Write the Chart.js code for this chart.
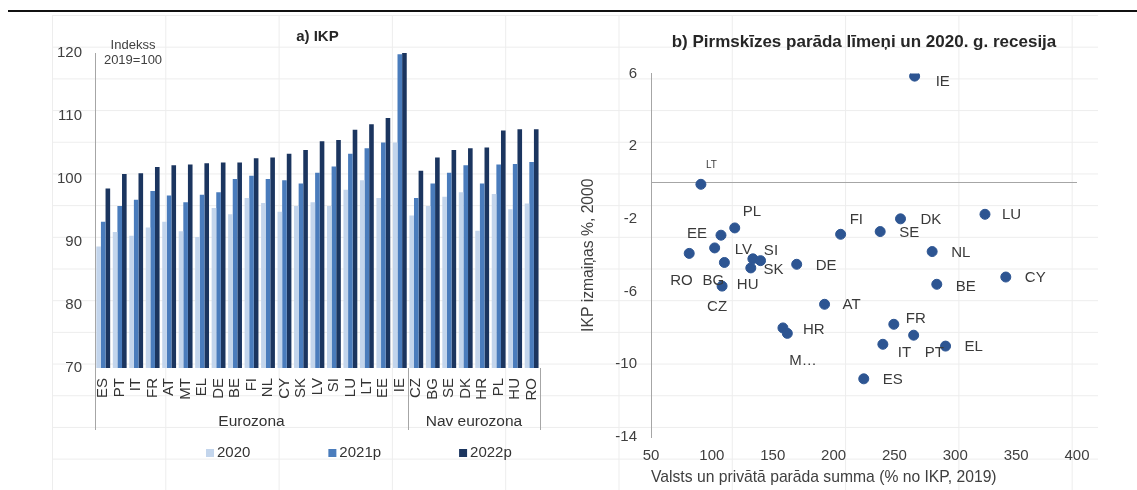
<!DOCTYPE html>
<html lang="lv">
<head>
<meta charset="UTF-8">
<title>IKP un parāda līmeņi</title>
<style>
  html, body { margin: 0; padding: 0; background: #fff; }
  body { width: 1137px; height: 490px; position: relative; overflow: hidden; }
  /* faint worksheet cells behind the charts */
  #sheet {
    position: absolute; left: 51.7px; top: 15.4px; width: 1046px; height: 475px;
    background-image: linear-gradient(to right, #ededed 1px, transparent 1px),
                      linear-gradient(to bottom, #ededed 1px, transparent 1px);
    background-size: 113.3px 31.7px;
  }
  #rule { position: absolute; left: 8px; right: 0; top: 10px; height: 1.5px; background: #111; }
  .panel { position: absolute; top: 0; height: 490px; }
  #left { left: 0; width: 560px; }
  #right { left: 560px; width: 577px; }
</style>
<script src="https://cdn.jsdelivr.net/npm/chart.js"></script>
</head>
<body>
<div id="sheet"></div>
<div id="rule"></div>
<div class="panel" id="left"><canvas id="gdpChart"></canvas></div>
<div class="panel" id="right"><canvas id="debtChart"></canvas></div>

<script>
    // a) GDP index, 2019 = 100
    const countries = ['ES', 'PT', 'IT', 'FR', 'AT', 'MT', 'EL', 'DE', 'BE', 'FI', 'NL', 'CY', 'SK', 'LV', 'SI', 'LU', 'LT', 'EE', 'IE',
                       'CZ', 'BG', 'SE', 'DK', 'HR', 'PL', 'HU', 'RO'];
    const gdp2020  = [89.3, 91.6, 91.0, 92.3, 93.2, 91.7, 90.8, 95.4, 94.4, 97.0, 96.2, 94.8, 95.7, 96.3, 95.7, 98.3, 99.8, 97.0, 105.8,
                      94.2, 95.7, 97.2, 97.9, 91.8, 97.6, 95.2, 96.1];
    const gdp2021p = [93.2, 95.7, 96.7, 98.1, 97.4, 96.3, 97.5, 97.9, 100.0, 100.5, 100.0, 99.8, 99.3, 101.0, 102.0, 104.0, 104.9, 105.8, 119.8,
                      97.0, 99.3, 101.0, 102.2, 99.3, 102.3, 102.4, 102.7];
    const gdp2022p = [98.5, 100.8, 100.9, 101.9, 102.2, 102.3, 102.5, 102.6, 102.6, 103.3, 103.4, 104.0, 104.6, 106.0, 106.2, 107.8, 108.7, 109.7, 120.0,
                      101.3, 103.4, 104.6, 104.9, 105.0, 107.7, 107.9, 107.9];
    const groups = [
        { label: 'Eurozona', from: 0, to: 18 },
        { label: 'Nav eurozona', from: 19, to: 26 }
    ];

    // b) pre-crisis debt vs. 2020 GDP change
    const debtCountries = ['IE', 'LT', 'LU', 'DK', 'PL', 'EE', 'FI', 'SE', 'LV', 'NL', 'RO', 'SI', 'SK', 'BG', 'DE', 'HU', 'CY', 'BE',
                           'CZ', 'AT', 'FR', 'HR', 'MT', 'PT', 'IT', 'EL', 'ES'];
    const pointLabels = ['IE', 'LT', 'LU', 'DK', 'PL', 'EE', 'FI', 'SE', 'LV', 'NL', 'RO', 'SI', 'SK', 'BG', 'DE', 'HU', 'CY', 'BE',
                         'CZ', 'AT', 'FR', 'HR', 'M…', 'PT', 'IT', 'EL', 'ES'];
    const debtSum = [266.6, 91.0, 324.4, 255.0, 118.8, 107.5, 205.8, 238.3, 102.3, 281.0, 81.4, 133.7, 140.0, 110.3, 169.7, 132.0, 341.5, 284.8,
                     108.4, 192.6, 249.5, 158.4, 162.0, 265.8, 240.5, 292.0, 224.8];
    const gdpChange2020 = [5.85, -0.1, -1.75, -2.0, -2.5, -2.9, -2.85, -2.7, -3.6, -3.8, -3.9, -4.2, -4.3, -4.4, -4.5, -4.7, -5.2, -5.6,
                           -5.7, -6.7, -7.8, -8.0, -8.3, -8.4, -8.9, -9.0, -10.8];

    // where each country code sits next to its marker (left edge, vertical middle)
    const labelOffset = {
        IE: [21, 6], LT: [5, -19], LU: [17, 1], DK: [20, 1.5], PL: [8, -15.6], EE: [-34, -1.7], FI: [9, -14],
        SE: [19, 1.6], LV: [20, 1.6], NL: [19, 1], RO: [-19, 27.4], SI: [11, -7.6], SK: [3, 9.3], BG: [-22, 18.3],
        DE: [19, 2], HU: [-14, 16.7], CY: [19, 1], BE: [19, 2.4], CZ: [-15, 20.6], AT: [18, 0.7], FR: [12, -5],
        HR: [20, 2], MT: [2, 27], PT: [11, 17.6], IT: [15, 9], EL: [19, 1], ES: [19, 1]
    };

    const FONT = "'Liberation Sans', Arial, sans-serif";
    Chart.defaults.font.family = FONT;
    Chart.defaults.font.size = 15;
    Chart.defaults.color = '#404040';
    Chart.defaults.animation = false;
    Chart.defaults.plugins.tooltip.enabled = false;
    Chart.defaults.plugins.legend.display = false;

    // group brackets under the category axis, unit note and legend
    const barExtras = {
        id: 'barExtras',
        afterDraw(chart) {
            const { ctx, chartArea: area, scales: { x } } = chart;
            const half = (x.getPixelForValue(1) - x.getPixelForValue(0)) / 2;
            const lineBottom = area.bottom + 62;

            ctx.save();
            ctx.strokeStyle = '#a6a6a6';
            ctx.lineWidth = 1;
            ctx.fillStyle = '#333';
            ctx.font = '15.5px ' + FONT;
            ctx.textAlign = 'center';
            ctx.textBaseline = 'middle';
            groups.forEach(g => {
                const left = x.getPixelForValue(g.from) - half;
                const right = x.getPixelForValue(g.to) + half;
                [left, right].forEach(px => {
                    const cx = Math.round(px) + 0.5;
                    ctx.beginPath();
                    ctx.moveTo(cx, area.bottom);
                    ctx.lineTo(cx, lineBottom);
                    ctx.stroke();
                });
                ctx.fillText(g.label, (left + right) / 2, area.bottom + 54);
            });

            ctx.font = '13px ' + FONT;
            ctx.fillStyle = '#404040';
            ctx.fillText('Indekss', area.left + 38, area.top - 8);
            ctx.fillText('2019=100', area.left + 38, area.top + 7);

            // legend row
            let lx = 206;
            const ly = 453;
            ctx.textAlign = 'left';
            ctx.font = '15px ' + FONT;
            chart.data.datasets.forEach(ds => {
                ctx.fillStyle = ds.backgroundColor;
                ctx.fillRect(lx, ly - 4, 8, 8);
                ctx.fillStyle = '#333';
                ctx.fillText(ds.label, lx + 11, ly);
                lx += 11 + ctx.measureText(ds.label).width + 78;
            });
            ctx.restore();
        }
    };

    // horizontal axis line at 0 and the country labels
    const scatterExtras = {
        id: 'scatterExtras',
        beforeDatasetsDraw(chart) {
            const { ctx, chartArea: area, scales: { y } } = chart;
            const y0 = Math.round(y.getPixelForValue(0)) + 0.5;
            ctx.save();
            ctx.strokeStyle = '#a6a6a6';
            ctx.lineWidth = 1;
            ctx.beginPath();
            ctx.moveTo(area.left, y0);
            ctx.lineTo(area.right, y0);
            ctx.stroke();
            ctx.restore();
        },
        afterDatasetsDraw(chart) {
            const { ctx } = chart;
            const meta = chart.getDatasetMeta(0);
            ctx.save();
            ctx.fillStyle = '#3a3a3a';
            ctx.textAlign = 'left';
            ctx.textBaseline = 'middle';
            meta.data.forEach((pt, i) => {
                const code = debtCountries[i];
                const [dx, dy] = labelOffset[code];
                ctx.font = (code === 'LT' ? 10 : 15) + 'px ' + FONT;
                ctx.fillText(pointLabels[i], pt.x + dx, pt.y + dy);
            });
            ctx.restore();
        }
    };

    new Chart(document.getElementById('gdpChart'), {
        type: 'bar',
        data: {
            labels: countries,
            datasets: [
                { label: '2020', data: gdp2020, backgroundColor: '#c3d5ec' },
                { label: '2021p', data: gdp2021p, backgroundColor: '#4a7cbc' },
                { label: '2022p', data: gdp2022p, backgroundColor: '#1b355f' }
            ]
        },
        options: {
            responsive: true,
            maintainAspectRatio: false,
            layout: { padding: { top: 28, right: 15, bottom: 52, left: 0 } },
            datasets: { bar: { categoryPercentage: 0.84, barPercentage: 1 } },
            plugins: {
                title: {
                    display: true, text: 'a) IKP', fullSize: false, color: '#262626',
                    font: { size: 15, weight: 'bold' }, padding: { top: 0, bottom: 7 }
                }
            },
            scales: {
                x: {
                    grid: { display: false, drawTicks: false },
                    border: { display: false },
                    ticks: { autoSkip: false, minRotation: 90, maxRotation: 90, padding: 10, color: '#333' },
                    afterFit: s => { s.height = 70; }
                },
                y: {
                    min: 70, max: 120,
                    ticks: { stepSize: 10, padding: 13 },
                    grid: { display: false, drawTicks: false },
                    border: { color: '#a6a6a6' },
                    afterFit: s => { s.width = 95; }
                }
            }
        },
        plugins: [barExtras]
    });

    new Chart(document.getElementById('debtChart'), {
        type: 'scatter',
        data: {
            datasets: [{
                data: debtSum.map((v, i) => ({ x: v, y: gdpChange2020[i] })),
                backgroundColor: '#2d5592',
                borderColor: '#2d5592',
                borderWidth: 1,
                pointRadius: 5
            }]
        },
        options: {
            responsive: true,
            maintainAspectRatio: false,
            layout: { padding: { top: 32, right: 60, bottom: 3, left: 19 } },
            plugins: {
                title: {
                    display: true, text: 'b) Pirmskīzes parāda līmeņi un 2020. g. recesija', fullSize: false,
                    color: '#262626', font: { size: 17, weight: 'bold' }, padding: { top: 0, bottom: 21 }
                }
            },
            scales: {
                x: {
                    type: 'linear', position: 'bottom', min: 50, max: 400,
                    ticks: { stepSize: 50, padding: 10 },
                    grid: { display: false, drawTicks: false },
                    border: { display: false },
                    title: {
                        display: true, text: 'Valsts un privātā parāda summa (% no IKP, 2019)',
                        align: 'start', font: { size: 15.7 }, padding: { top: 4, bottom: 0 }
                    },
                    afterFit: s => { s.height = 50; }
                },
                y: {
                    min: -14, max: 6,
                    ticks: { stepSize: 4, padding: 14 },
                    grid: { display: false, drawTicks: false },
                    border: { color: '#a6a6a6' },
                    title: { display: true, text: 'IKP izmaiņas %, 2000', font: { size: 15.7 }, padding: 0 },
                    afterFit: s => { s.width = 72; }
                }
            }
        },
        plugins: [scatterExtras]
    });
</script>
</body>
</html>
